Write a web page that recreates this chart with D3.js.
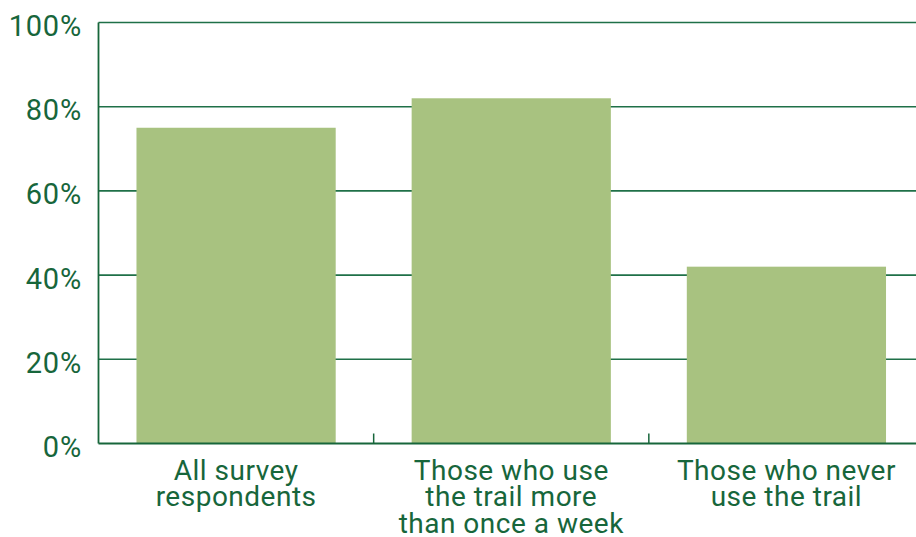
<!DOCTYPE html>
<html>
<head>
<meta charset="utf-8">
<script src="https://cdn.jsdelivr.net/npm/d3@7"></script>
<style>
  body { margin: 0; background: #fff; }
  svg { display: block; }
  text { font-family: Roboto, sans-serif; fill: #17663b; }
</style>
</head>
<body>
<svg class="js-chart"></svg>
<script>
var categories = [
    ["All survey", "respondents"],
    ["Those who use", "the trail more", "than once a week"],
    ["Those who never", "use the trail"]
];
var values = [75, 82, 42];
var yTicks = [0, 20, 40, 60, 80, 100];

var width = 916, height = 537;
var margin = { top: 22.5, right: -8, bottom: 93.5, left: 98.5 };
var innerW = width - margin.left - margin.right;
var innerH = height - margin.top - margin.bottom;

var svg = d3.select(".js-chart")
    .attr("width", width)
    .attr("height", height);

var g = svg.append("g")
    .attr("transform", "translate(" + margin.left + "," + margin.top + ")");

var x = d3.scaleBand()
    .domain(d3.range(categories.length))
    .range([0, innerW])
    .paddingInner(0.276)
    .paddingOuter(0.138);

var xb = d3.scaleBand()
    .domain(d3.range(categories.length))
    .range([0, innerW]);

var y = d3.scaleLinear().domain([0, 100]).range([innerH, 0]);

// gridlines
g.selectAll(".grid").data(yTicks.filter(function (d) { return d > 0; }))
    .enter().append("line")
        .attr("x1", 0).attr("x2", width)
        .attr("y1", y).attr("y2", y)
        .style("stroke", "#1f7048")
        .style("stroke-width", 1.6);

// bars
g.selectAll(".bar").data(values)
    .enter().append("rect")
        .attr("x", function (d, i) { return x(i); })
        .attr("width", x.bandwidth())
        .attr("y", y)
        .attr("height", function (d) { return innerH - y(d); })
        .style("fill", "#a8c280");

// axes lines
g.append("line")
    .attr("x1", 0).attr("x2", 0).attr("y1", 0).attr("y2", innerH)
    .style("stroke", "#17663b").style("stroke-width", 1.8);
g.append("line")
    .attr("x1", 0).attr("x2", width).attr("y1", innerH).attr("y2", innerH)
    .style("stroke", "#17663b").style("stroke-width", 2);

// category boundary ticks
g.selectAll(".xtick").data(d3.range(1, categories.length))
    .enter().append("line")
        .attr("x1", function (i) { return xb(i); })
        .attr("x2", function (i) { return xb(i); })
        .attr("y1", innerH - 10).attr("y2", innerH)
        .style("stroke", "#17663b").style("stroke-width", 1.5);

// y labels
g.selectAll(".ylab").data(yTicks)
    .enter().append("text")
        .attr("x", -16.5)
        .attr("y", function (d) { return y(d) + 13.5; })
        .attr("text-anchor", "end")
        .style("font-size", "29px")
        .style("letter-spacing", "0.8px")
        .text(function (d) { return d + "%"; });

// x labels
var lab = g.selectAll(".xlab").data(categories)
    .enter().append("text")
        .attr("text-anchor", "middle")
        .attr("transform", function (d, i) {
            return "translate(" + (x(i) + x.bandwidth() / 2) + "," + (innerH + 36) + ")";
        })
        .style("font-size", "28px")
        .style("letter-spacing", "0.5px");

lab.selectAll("tspan").data(function (d) { return d; })
    .enter().append("tspan")
        .attr("x", 0)
        .attr("y", function (d, i) { return i * 26.5; })
        .text(String);
</script>
</body>
</html>
